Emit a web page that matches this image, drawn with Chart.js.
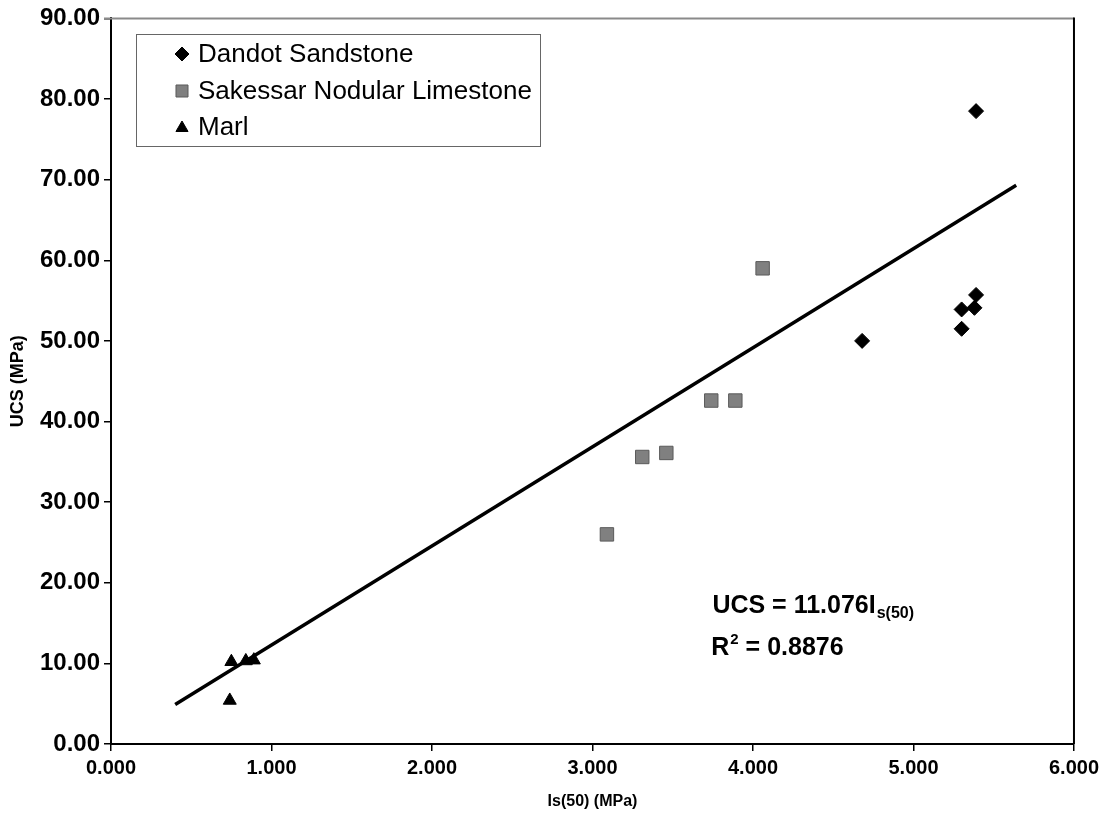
<!DOCTYPE html>
<html>
<head>
<meta charset="utf-8">
<script src="https://cdn.jsdelivr.net/npm/chart.js@4.4.1/dist/chart.umd.min.js"></script>
<style>
  html, body { margin: 0; padding: 0; background: #fff; }
  #wrap { width: 1104px; height: 816px; }
</style>
</head>
<body>
<div id="wrap"><canvas id="c" width="1104" height="816"></canvas></div>
<script>
// ---- data ----
const seriesNames = ["Dandot Sandstone", "Sakessar Nodular Limestone", "Marl"];
const dandotX = [4.68, 5.30, 5.38, 5.39, 5.30, 5.39];
const dandotY = [50.0, 53.9, 54.1, 55.7, 51.5, 78.5];
const sakessarX = [3.09, 3.31, 3.46, 3.74, 3.89, 4.06];
const sakessarY = [26.0, 35.6, 36.1, 42.6, 42.6, 59.0];
const marlX = [0.74, 0.75, 0.84, 0.89];
const marlY = [5.4, 10.2, 10.3, 10.4];
const trendX = [0.40, 5.64];
const trendY = [4.9, 69.3];
const xTicks = [0, 1, 2, 3, 4, 5, 6];
const yTicks = [0, 10, 20, 30, 40, 50, 60, 70, 80, 90];
const xTitle = "Is(50) (MPa)";
const yTitle = "UCS (MPa)";
const eqMain = "UCS = 11.076I";
const eqSub = "s(50)";
const r2Label = "R";
const r2Sup = "2";
const r2Value = " = 0.8876";
const eqPos = [3.747, 16.2];
const r2Pos = [3.74, 11.1];

const FONT = "'Liberation Sans', Arial, Helvetica, sans-serif";
const pts = (xs, ys) => xs.map((x, i) => ({ x: x, y: ys[i] }));

const frame = {
  id: 'frame',
  afterDatasetsDraw(chart) {
    const { ctx, chartArea: a } = chart;
    ctx.save();
    ctx.lineWidth = 2;
    ctx.strokeStyle = '#8a8a8a';
    ctx.beginPath(); ctx.moveTo(104, a.top); ctx.lineTo(a.right, a.top); ctx.stroke();
    ctx.strokeStyle = '#000';
    ctx.beginPath(); ctx.moveTo(a.right, a.top - 1); ctx.lineTo(a.right, a.bottom); ctx.stroke();
    ctx.restore();
  }
};

const legendBox = {
  id: 'legendBox',
  afterDraw(chart) {
    const { ctx } = chart;
    ctx.save();
    ctx.fillStyle = '#fff';
    ctx.fillRect(136, 34, 404, 112);
    ctx.strokeStyle = '#666';
    ctx.lineWidth = 1;
    ctx.strokeRect(136.5, 34.5, 404, 112);
    const rows = [54, 91, 127];
    const radii = [7, 8.5, 7];
    ctx.font = "26px " + FONT;
    ctx.textBaseline = 'middle';
    ctx.textAlign = 'left';
    chart.data.datasets.slice(0, 3).forEach((ds, i) => {
      ctx.fillStyle = ds.pointBackgroundColor;
      ctx.strokeStyle = ds.pointBorderColor;
      ctx.lineWidth = 1;
      Chart.helpers.drawPoint(ctx, { pointStyle: ds.pointStyle, radius: radii[i], borderWidth: 1 }, 182, rows[i] + (i === 2 ? 1 : 0));
      ctx.fillStyle = '#000';
      ctx.fillText(ds.label, 198, rows[i] + 1);
    });
    ctx.restore();
  }
};

const equation = {
  id: 'equation',
  afterDatasetsDraw(chart) {
    const { ctx, scales } = chart;
    const x1 = scales.x.getPixelForValue(eqPos[0]);
    const y1 = scales.y.getPixelForValue(eqPos[1]);
    const x2 = scales.x.getPixelForValue(r2Pos[0]);
    const y2 = scales.y.getPixelForValue(r2Pos[1]);
    ctx.save();
    ctx.fillStyle = '#000';
    ctx.textBaseline = 'alphabetic';
    ctx.textAlign = 'left';
    ctx.font = "bold 25px " + FONT;
    ctx.fillText(eqMain, x1, y1);
    let w = ctx.measureText(eqMain).width;
    ctx.font = "bold 16px " + FONT;
    ctx.fillText(eqSub, x1 + w + 1, y1 + 5);
    ctx.font = "bold 25px " + FONT;
    ctx.fillText(r2Label, x2, y2);
    w = ctx.measureText(r2Label).width;
    ctx.font = "bold 15px " + FONT;
    ctx.fillText(r2Sup, x2 + w + 1, y2 - 11);
    const w2 = ctx.measureText(r2Sup).width;
    ctx.font = "bold 25px " + FONT;
    ctx.fillText(r2Value, x2 + w + w2 + 1, y2);
    ctx.restore();
  }
};

new Chart(document.getElementById('c'), {
  type: 'scatter',
  data: {
    datasets: [
      { label: seriesNames[0], data: pts(dandotX, dandotY), pointStyle: 'rectRot', pointRadius: 7.5,
        pointBackgroundColor: '#000', pointBorderColor: '#000', pointBorderWidth: 1, order: 1 },
      { label: seriesNames[1], data: pts(sakessarX, sakessarY), pointStyle: 'rect', pointRadius: 9.5,
        pointBackgroundColor: '#808080', pointBorderColor: '#5a5a5a', pointBorderWidth: 1, order: 1 },
      { label: seriesNames[2], data: pts(marlX, marlY), pointStyle: 'triangle', pointRadius: 7.5,
        pointBackgroundColor: '#000', pointBorderColor: '#000', pointBorderWidth: 1, order: 1 },
      { type: 'line', label: 'trend', data: pts(trendX, trendY), borderColor: '#000', borderWidth: 3.5,
        pointRadius: 0, fill: false, showLine: true, order: 0 }
    ]
  },
  options: {
    responsive: false,
    animation: false,
    devicePixelRatio: 1,
    layout: { padding: { top: 16, right: 29, left: 0, bottom: 0 } },
    plugins: { legend: { display: false }, tooltip: { enabled: false } },
    scales: {
      x: {
        type: 'linear', min: 0, max: 6,
        afterBuildTicks: (s) => { s.ticks = xTicks.map(v => ({ value: v })); },
        afterFit: (s) => { s.height = 72; },
        ticks: { callback: (v) => Number(v).toFixed(3), color: '#000', padding: 5,
                 font: { family: FONT, size: 20, weight: 'bold' }, maxRotation: 0, autoSkip: false },
        grid: { drawOnChartArea: false, drawTicks: true, tickLength: 7, color: '#000', lineWidth: 1.5 },
        border: { color: '#000', width: 2 },
        title: { display: true, text: xTitle, color: '#000', padding: { top: 0, bottom: 5 },
                 font: { family: FONT, size: 16, weight: 'bold' } }
      },
      y: {
        type: 'linear', min: 0, max: 90,
        afterBuildTicks: (s) => { s.ticks = yTicks.map(v => ({ value: v })); },
        afterFit: (s) => { s.width = 111; },
        ticks: { callback: (v) => Number(v).toFixed(2), color: '#000', padding: 4,
                 font: { family: FONT, size: 24, weight: 'bold' }, autoSkip: false },
        grid: { drawOnChartArea: false, drawTicks: true, tickLength: 7, color: '#000', lineWidth: 1.5 },
        border: { color: '#000', width: 2 },
        title: { display: true, text: yTitle, color: '#000', padding: { top: 7, bottom: 0 },
                 font: { family: FONT, size: 18, weight: 'bold' } }
      }
    }
  },
  plugins: [frame, legendBox, equation]
});
</script>
</body>
</html>
